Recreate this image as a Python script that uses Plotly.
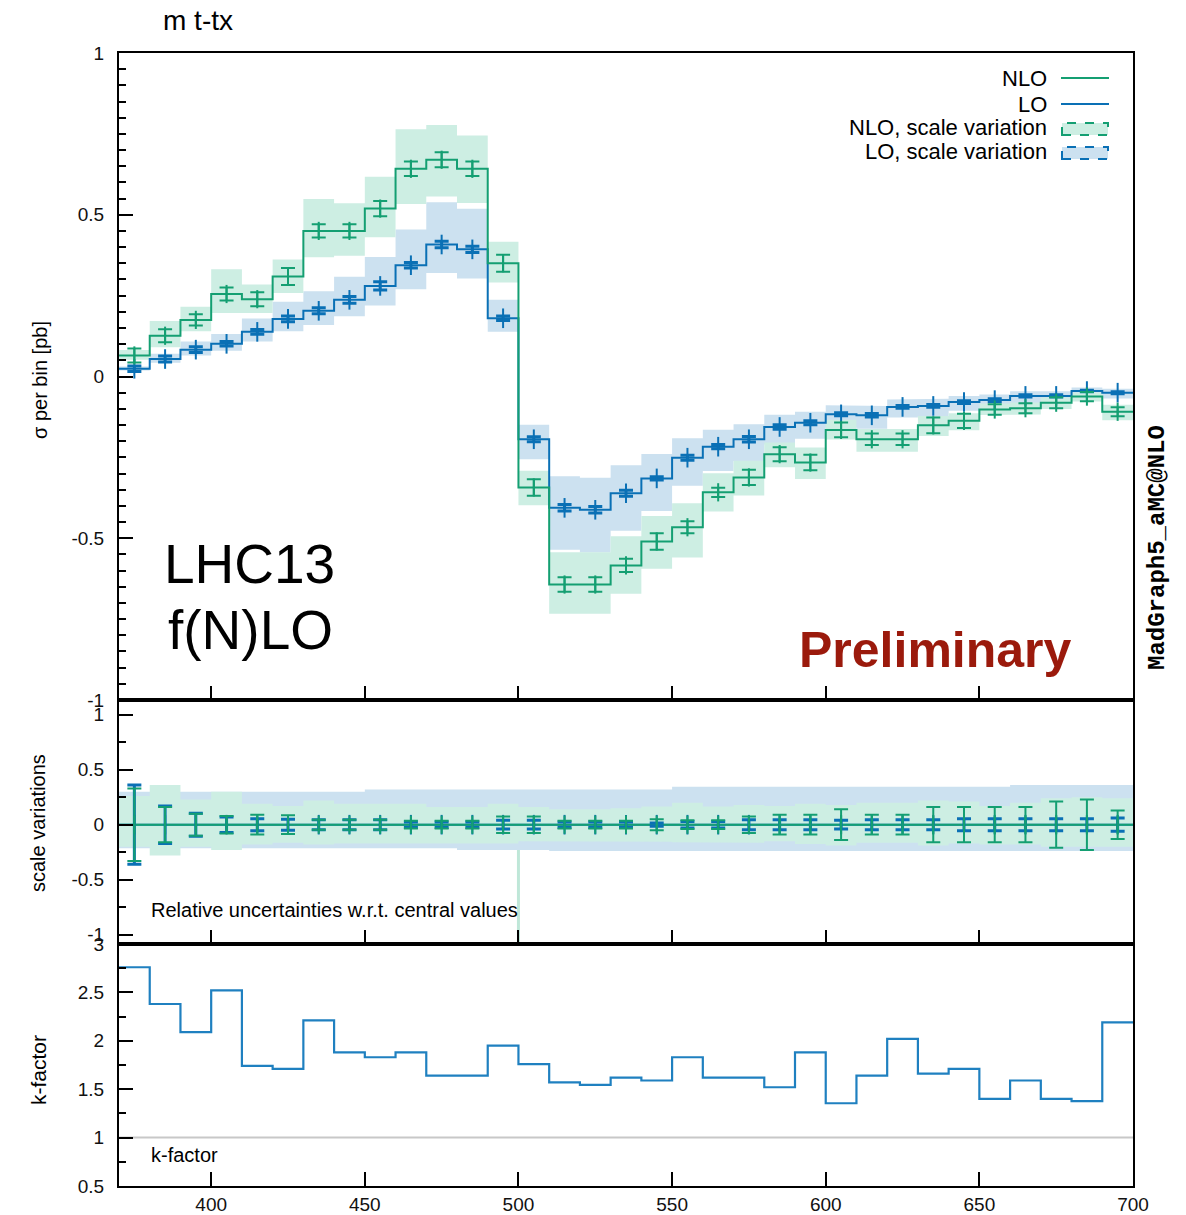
import numpy as np
import plotly.graph_objects as go

# ---------------- data ----------------
# bin edges of the m(t-tx) histogram [GeV]
edges = [370, 380, 390, 400, 410, 420, 430, 440, 450, 460, 470, 480, 490, 500,
         510, 520, 530, 540, 550, 560, 570, 580, 590, 600, 610, 620, 630, 640,
         650, 660, 670, 680, 690, 700]

# cross section per bin [pb]
nlo = [0.065, 0.126, 0.175, 0.255, 0.239, 0.309, 0.450, 0.450, 0.519, 0.642, 0.670,
       0.642, 0.350, -0.343, -0.643, -0.643, -0.584, -0.510, -0.466, -0.358, -0.312,
       -0.240, -0.266, -0.165, -0.194, -0.194, -0.151, -0.137, -0.102, -0.098, -0.081,
       -0.062, -0.109]
lo = [0.024, 0.054, 0.083, 0.101, 0.138, 0.178, 0.203, 0.237, 0.280, 0.344, 0.408,
      0.393, 0.180, -0.194, -0.406, -0.412, -0.361, -0.315, -0.251, -0.217, -0.194,
      -0.156, -0.143, -0.117, -0.120, -0.094, -0.091, -0.079, -0.073, -0.060, -0.060,
      -0.045, -0.050]

# relative scale-variation envelopes (w.r.t. central values)
nlo_scale_up = [0.26, 0.36, 0.23, 0.30, 0.19, 0.17, 0.22, 0.19, 0.19, 0.19, 0.16,
                0.16, 0.19, 0.16, 0.14, 0.14, 0.15, 0.165, 0.20, 0.165, 0.18, 0.17,
                0.19, 0.18, 0.20, 0.20, 0.22, 0.21, 0.17, 0.20, 0.24, 0.25, 0.24]
nlo_scale_dn = [-0.20, -0.28, -0.20, -0.23, -0.18, -0.165, -0.18, -0.17, -0.17, -0.17,
                -0.17, -0.165, -0.17, -0.15, -0.155, -0.155, -0.155, -0.155, -0.16,
                -0.165, -0.165, -0.15, -0.175, -0.19, -0.165, -0.165, -0.19, -0.17,
                -0.18, -0.18, -0.20, -0.20, -0.20]
lo_scale_up = [0.30, 0.30, 0.30, 0.30, 0.30, 0.30, 0.30, 0.30, 0.32, 0.32, 0.32,
               0.32, 0.32, 0.32, 0.32, 0.32, 0.32, 0.32, 0.345, 0.345, 0.345, 0.345,
               0.345, 0.345, 0.345, 0.345, 0.345, 0.345, 0.345, 0.36, 0.36, 0.36, 0.36]
lo_scale_dn = [-0.215, -0.215, -0.215, -0.215, -0.215, -0.215, -0.215, -0.215, -0.215,
               -0.215, -0.215, -0.23, -0.23, -0.23, -0.24, -0.24, -0.24, -0.24, -0.24,
               -0.24, -0.24, -0.24, -0.24, -0.24, -0.24, -0.24, -0.24, -0.24, -0.24,
               -0.24, -0.24, -0.24, -0.24]

# relative statistical (MC) uncertainties
nlo_stat = [0.33, 0.16, 0.10, 0.08, 0.09, 0.085, 0.045, 0.045, 0.045, 0.035, 0.035,
            0.035, 0.075, 0.075, 0.035, 0.035, 0.035, 0.05, 0.04, 0.04, 0.075, 0.09,
            0.09, 0.14, 0.09, 0.09, 0.16, 0.16, 0.16, 0.16, 0.21, 0.23, 0.13]
lo_stat = [0.36, 0.17, 0.105, 0.07, 0.055, 0.05, 0.045, 0.045, 0.045, 0.025, 0.025,
           0.025, 0.04, 0.04, 0.025, 0.025, 0.025, 0.015, 0.03, 0.03, 0.045, 0.045,
           0.045, 0.04, 0.045, 0.045, 0.045, 0.055, 0.055, 0.055, 0.055, 0.055, 0.06]

# NLO / LO ratio per bin
kfactor = [2.76, 2.38, 2.09, 2.52, 1.74, 1.71, 2.21, 1.88, 1.83, 1.88, 1.64, 1.64,
           1.95, 1.76, 1.57, 1.545, 1.62, 1.59, 1.83, 1.62, 1.62, 1.52, 1.88, 1.355,
           1.64, 2.02, 1.66, 1.71, 1.40, 1.59, 1.40, 1.376, 2.19]

x_ticks = [400, 450, 500, 550, 600, 650, 700]
main_ticks = [-1, -0.5, 0, 0.5, 1]
main_ticklabels = ["-1", "-0.5", "0", "0.5", "1"]
k_ticks = [0.5, 1, 1.5, 2, 2.5, 3]
k_ticklabels = ["0.5", "1", "1.5", "2", "2.5", "3"]

# ---------------- styling ----------------
W, H = 1186, 1215
ML, MR, MT, MB = 119, 53, 53, 29
C_NLO = "#149f72"
C_LO = "#0a70b5"
C_K = "#1f80c0"
F_NLO = "#cdeee3"
F_LO = "#cce1f0"
FONT = "Liberation Sans, Arial, sans-serif"

e = np.array(edges, dtype=float)
centers = 0.5 * (e[:-1] + e[1:])
nlo_a, lo_a = np.array(nlo), np.array(lo)


def px(xpix):
    return (xpix - ML) / (W - ML - MR)


def py(ypix):
    return (H - MB - ypix) / (H - MT - MB)


def step_xy(values):
    return e, np.append(values, values[-1])


def band_xy(upper, lower):
    xs = np.repeat(e, 2)[1:-1]
    yu = np.repeat(upper, 2)
    yl = np.repeat(lower, 2)
    return np.concatenate([xs, xs[::-1]]), np.concatenate([yu, yl[::-1]])


fig = go.Figure()

# ---- top panel: cross sections ----
for cen, up, dn, fill in ((lo_a, lo_scale_up, lo_scale_dn, F_LO),
                          (nlo_a, nlo_scale_up, nlo_scale_dn, F_NLO)):
    bx, by = band_xy(cen * (1 + np.array(up)), cen * (1 + np.array(dn)))
    fig.add_trace(go.Scatter(x=bx, y=by, mode="lines", fill="toself", fillcolor=fill,
                             line=dict(width=0), xaxis="x", yaxis="y", hoverinfo="skip"))

for cen, col in ((lo_a, C_LO), (nlo_a, C_NLO)):
    sx, sy = step_xy(cen)
    fig.add_trace(go.Scatter(x=sx, y=sy, mode="lines", line=dict(color=col, width=2, shape="hv"),
                             xaxis="x", yaxis="y"))

fig.add_trace(go.Scatter(
    x=centers, y=lo_a, mode="markers", xaxis="x", yaxis="y",
    marker=dict(symbol="line-ns", size=14, line=dict(color=C_LO, width=2)),
    error_y=dict(type="data", array=np.abs(lo_a) * np.array(lo_stat), color=C_LO,
                 thickness=3, width=7)))
fig.add_trace(go.Scatter(
    x=centers, y=nlo_a, mode="markers", xaxis="x", yaxis="y",
    marker=dict(symbol="line-ns", size=13, line=dict(color=C_NLO, width=2)),
    error_y=dict(type="data", array=np.abs(nlo_a) * np.array(nlo_stat), color=C_NLO,
                 thickness=2, width=7)))

# ---- middle panel: relative uncertainties ----
for up, dn, fill in ((lo_scale_up, lo_scale_dn, F_LO), (nlo_scale_up, nlo_scale_dn, F_NLO)):
    bx, by = band_xy(np.array(up), np.array(dn))
    fig.add_trace(go.Scatter(x=bx, y=by, mode="lines", fill="toself", fillcolor=fill,
                             line=dict(width=0), xaxis="x2", yaxis="y2", hoverinfo="skip"))

rel_lo = lo_a / lo_a - 1
rel_nlo = nlo_a / nlo_a - 1
for rel, col in ((rel_lo, C_LO), (rel_nlo, C_NLO)):
    sx, sy = step_xy(rel)
    fig.add_trace(go.Scatter(x=sx, y=sy, mode="lines", line=dict(color=col, width=2, shape="hv"),
                             xaxis="x2", yaxis="y2"))

fig.add_trace(go.Scatter(
    x=centers, y=rel_lo, mode="markers", xaxis="x2", yaxis="y2",
    marker=dict(symbol="line-ns", size=14, line=dict(color=C_LO, width=2)),
    error_y=dict(type="data", array=lo_stat, color=C_LO, thickness=3, width=7)))
fig.add_trace(go.Scatter(
    x=centers, y=rel_nlo, mode="markers", xaxis="x2", yaxis="y2",
    marker=dict(symbol="line-ns", size=13, line=dict(color=C_NLO, width=2)),
    error_y=dict(type="data", array=nlo_stat, color=C_NLO, thickness=2, width=7)))

# ---- bottom panel: k-factor ----
sx, sy = step_xy(np.array(kfactor))
fig.add_trace(go.Scatter(x=sx, y=sy, mode="lines", line=dict(color=C_K, width=2.2, shape="hv"),
                         xaxis="x3", yaxis="y3"))

# ---------------- axes ----------------
d_bot = py(944)
d_mid = py(700)
axis_common = dict(showline=True, linecolor="black", linewidth=2, mirror=True,
                   showgrid=False, zeroline=False, ticks="inside", tickcolor="black",
                   tickwidth=1.5, ticklen=14, automargin=False)
tickfont = dict(family=FONT, size=19, color="#111")

xcommon = dict(axis_common, range=[e[0], e[-1]], tickmode="array", tickvals=x_ticks,
               ticktext=[str(t) for t in x_ticks], tickfont=tickfont)
fig.update_layout(
    xaxis=dict(xcommon, domain=[0, 1], anchor="y", showticklabels=False, matches="x3"),
    xaxis2=dict(xcommon, domain=[0, 1], anchor="y2", showticklabels=False, matches="x3"),
    xaxis3=dict(xcommon, domain=[0, 1], anchor="y3", ticklabelstandoff=0),
    yaxis=dict(axis_common, domain=[d_mid, 1], anchor="x", range=[-1, 1],
               tickmode="array", tickvals=main_ticks, ticktext=main_ticklabels,
               tickfont=tickfont, ticklabelstandoff=9,
               minor=dict(tickmode="linear", tick0=0, dtick=0.05, ticks="inside",
                          ticklen=7, tickwidth=1.5, tickcolor="black")),
    yaxis2=dict(axis_common, domain=[d_bot, d_mid], anchor="x2", range=[-1.085, 1.134],
                tickmode="array", tickvals=main_ticks, ticktext=main_ticklabels,
                tickfont=tickfont, ticklabelstandoff=9,
                minor=dict(tickmode="linear", tick0=0, dtick=0.25, ticks="inside",
                           ticklen=7, tickwidth=1.5, tickcolor="black")),
    yaxis3=dict(axis_common, domain=[0, d_bot], anchor="x3", range=[0.5, 3],
                tickmode="array", tickvals=k_ticks, ticktext=k_ticklabels,
                tickfont=tickfont, ticklabelstandoff=9,
                minor=dict(tickmode="linear", tick0=0, dtick=0.25, ticks="inside",
                           ticklen=7, tickwidth=1.5, tickcolor="black")),
)

# ---------------- shapes ----------------
shapes = [
    # k = 1 reference line
    dict(type="line", xref="x3", yref="y3", x0=e[0], x1=e[-1], y0=1, y1=1,
         line=dict(color="#c8c8c8", width=2), layer="below"),
    # envelope edge at the sign change of the distribution
    dict(type="line", xref="x2", yref="y2", x0=e[13], x1=e[13], y0=-1.085,
         y1=nlo_scale_dn[12], line=dict(color="#bfe7d8", width=3), layer="below"),
    # legend samples
    dict(type="line", xref="paper", yref="paper", x0=px(1061), x1=px(1109), y0=py(78), y1=py(78),
         line=dict(color=C_NLO, width=2)),
    dict(type="line", xref="paper", yref="paper", x0=px(1061), x1=px(1109), y0=py(104), y1=py(104),
         line=dict(color=C_LO, width=2)),
    dict(type="rect", xref="paper", yref="paper", x0=px(1062), x1=px(1108), y0=py(135), y1=py(123),
         fillcolor=F_NLO, line=dict(color=C_NLO, width=2, dash="dash")),
    dict(type="rect", xref="paper", yref="paper", x0=px(1062), x1=px(1108), y0=py(159), y1=py(147),
         fillcolor=F_LO, line=dict(color=C_LO, width=2, dash="dash")),
]

# ---------------- text ----------------
def ann(text, xp, yp, size, xanchor="center", yanchor="middle", color="black",
        family=FONT, angle=0, weight="normal"):
    return dict(text=text, x=px(xp), y=py(yp), xref="paper", yref="paper",
                xanchor=xanchor, yanchor=yanchor, showarrow=False, textangle=angle,
                font=dict(family=family, size=size, color=color, weight=weight))


annotations = [
    ann("m t-tx", 161, 21, 28, xanchor="left"),
    ann("σ per bin [pb]", 40, 380, 20, angle=-90),
    ann("scale variations", 38, 823, 20, angle=-90),
    ann("k-factor", 38, 1070, 21, angle=-90),
    ann("Relative uncertainties w.r.t. central values", 149, 910, 20, xanchor="left"),
    ann("k-factor", 149, 1155, 20, xanchor="left"),
    ann("LHC13", 249, 564, 55),
    ann("f(N)LO", 250, 630, 55),
    ann("Preliminary", 935, 650, 50, color="#9b1a0c", weight="bold"),
    ann("MadGraph5_aMC@NLO", 1157, 548, 24, angle=-90,
        family="Liberation Mono, DejaVu Sans Mono, monospace", weight="bold"),
    ann("NLO", 1049, 79, 22, xanchor="right"),
    ann("LO", 1049, 104, 22, xanchor="right"),
    ann("NLO, scale variation", 1049, 128, 22, xanchor="right"),
    ann("LO, scale variation", 1049, 152, 22, xanchor="right"),
]

fig.update_layout(
    width=W, height=H, margin=dict(l=ML, r=MR, t=MT, b=MB, autoexpand=False),
    paper_bgcolor="white", plot_bgcolor="white", showlegend=False,
    font=dict(family=FONT, color="black"),
    shapes=shapes, annotations=annotations,
)

fig.write_html("out.html")
